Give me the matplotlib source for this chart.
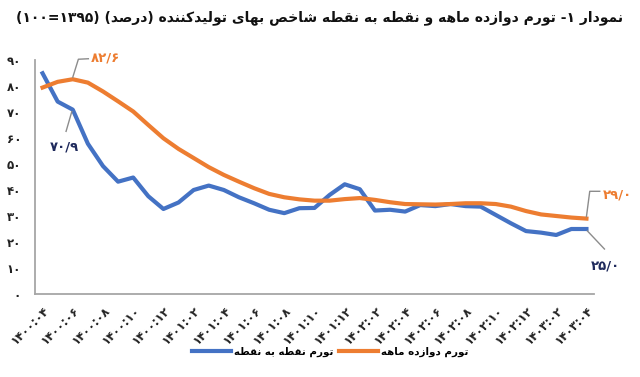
import re
import matplotlib
matplotlib.use("Agg")
import matplotlib.pyplot as plt
from matplotlib.lines import Line2D

# ---------------- data ----------------
months = ["۱۴۰۰:۰۴", "۱۴۰۰:۰۵", "۱۴۰۰:۰۶", "۱۴۰۰:۰۷", "۱۴۰۰:۰۸", "۱۴۰۰:۰۹", "۱۴۰۰:۱۰", "۱۴۰۰:۱۱", "۱۴۰۰:۱۲",
          "۱۴۰۱:۰۱", "۱۴۰۱:۰۲", "۱۴۰۱:۰۳", "۱۴۰۱:۰۴", "۱۴۰۱:۰۵", "۱۴۰۱:۰۶", "۱۴۰۱:۰۷", "۱۴۰۱:۰۸", "۱۴۰۱:۰۹",
          "۱۴۰۱:۱۰", "۱۴۰۱:۱۱", "۱۴۰۱:۱۲", "۱۴۰۲:۰۱", "۱۴۰۲:۰۲", "۱۴۰۲:۰۳", "۱۴۰۲:۰۴", "۱۴۰۲:۰۵", "۱۴۰۲:۰۶",
          "۱۴۰۲:۰۷", "۱۴۰۲:۰۸", "۱۴۰۲:۰۹", "۱۴۰۲:۱۰", "۱۴۰۲:۱۱", "۱۴۰۲:۱۲", "۱۴۰۳:۰۱", "۱۴۰۳:۰۲", "۱۴۰۳:۰۳",
          "۱۴۰۳:۰۴"]

point_to_point = [84.9, 74.0, 70.9, 57.8, 49.2, 43.2, 44.8, 37.6, 32.7, 35.2, 40.0, 41.7, 40.0, 37.2, 34.9,
                  32.4, 31.1, 33.0, 33.1, 38.1, 42.2, 40.3, 32.1, 32.4, 31.7, 34.2, 33.8, 34.6, 33.8, 33.6,
                  30.4, 27.2, 24.2, 23.6, 22.7, 25.0, 25.0]
twelve_month = [79.4, 81.6, 82.6, 81.3, 77.9, 74.1, 70.2, 65.0, 59.9, 55.8, 52.3, 48.8, 45.8, 43.2, 40.7,
                38.5, 37.2, 36.4, 35.9, 35.9, 36.5, 36.9, 36.2, 35.3, 34.6, 34.5, 34.4, 34.6, 34.9, 34.9,
                34.6, 33.6, 31.9, 30.6, 30.0, 29.4, 29.0]

y_ticks = [0, 10, 20, 30, 40, 50, 60, 70, 80, 90]
y_tick_labels = ["۰", "۱۰", "۲۰", "۳۰", "۴۰", "۵۰", "۶۰", "۷۰", "۸۰", "۹۰"]

title_text = "نمودار ۱- تورم دوازده ماهه و نقطه به نقطه شاخص بهای تولیدکننده (درصد) (۱۰۰=۱۳۹۵)"
legend_p2p = "تورم نقطه به نقطه"
legend_12m = "تورم دوازده ماهه"
label_peak_12m = "۸۲/۶"
label_p2p_start = "۷۰/۹"
label_end_12m = "۲۹/۰"
label_end_p2p = "۲۵/۰"

# ---------------- simple Persian shaping (no external libs) ----------------
# letter: (isolated, final, initial, medial); None initial => does not join to next
FORMS = {
    "ا": ("\uFE8D", "\uFE8E", None, None),
    "آ": ("\uFE81", "\uFE82", None, None),
    "ب": ("\uFE8F", "\uFE90", "\uFE91", "\uFE92"),
    "پ": ("\uFB56", "\uFB57", "\uFB58", "\uFB59"),
    "ت": ("\uFE95", "\uFE96", "\uFE97", "\uFE98"),
    "ث": ("\uFE99", "\uFE9A", "\uFE9B", "\uFE9C"),
    "ج": ("\uFE9D", "\uFE9E", "\uFE9F", "\uFEA0"),
    "چ": ("\uFB7A", "\uFB7B", "\uFB7C", "\uFB7D"),
    "ح": ("\uFEA1", "\uFEA2", "\uFEA3", "\uFEA4"),
    "خ": ("\uFEA5", "\uFEA6", "\uFEA7", "\uFEA8"),
    "د": ("\uFEA9", "\uFEAA", None, None),
    "ذ": ("\uFEAB", "\uFEAC", None, None),
    "ر": ("\uFEAD", "\uFEAE", None, None),
    "ز": ("\uFEAF", "\uFEB0", None, None),
    "ژ": ("\uFB8A", "\uFB8B", None, None),
    "س": ("\uFEB1", "\uFEB2", "\uFEB3", "\uFEB4"),
    "ش": ("\uFEB5", "\uFEB6", "\uFEB7", "\uFEB8"),
    "ص": ("\uFEB9", "\uFEBA", "\uFEBB", "\uFEBC"),
    "ض": ("\uFEBD", "\uFEBE", "\uFEBF", "\uFEC0"),
    "ط": ("\uFEC1", "\uFEC2", "\uFEC3", "\uFEC4"),
    "ظ": ("\uFEC5", "\uFEC6", "\uFEC7", "\uFEC8"),
    "ع": ("\uFEC9", "\uFECA", "\uFECB", "\uFECC"),
    "غ": ("\uFECD", "\uFECE", "\uFECF", "\uFED0"),
    "ف": ("\uFED1", "\uFED2", "\uFED3", "\uFED4"),
    "ق": ("\uFED5", "\uFED6", "\uFED7", "\uFED8"),
    "ک": ("\uFB8E", "\uFB8F", "\uFB90", "\uFB91"),
    "گ": ("\uFB92", "\uFB93", "\uFB94", "\uFB95"),
    "ل": ("\uFEDD", "\uFEDE", "\uFEDF", "\uFEE0"),
    "م": ("\uFEE1", "\uFEE2", "\uFEE3", "\uFEE4"),
    "ن": ("\uFEE5", "\uFEE6", "\uFEE7", "\uFEE8"),
    "ه": ("\uFEE9", "\uFEEA", "\uFEEB", "\uFEEC"),
    "و": ("\uFEED", "\uFEEE", None, None),
    "ی": ("\uFBFC", "\uFBFD", "\uFBFE", "\uFBFF"),
}
MIRROR = {"(": ")", ")": "("}
LTR_RUN = re.compile(r"[0-9\u06F0-\u06F9](?:[0-9\u06F0-\u06F9/:.=]*[0-9\u06F0-\u06F9])?")


def shape(text):
    chars = list(text)
    out = []
    for i, c in enumerate(chars):
        if c not in FORMS:
            out.append(c)
            continue
        prev = chars[i - 1] if i > 0 else None
        nxt = chars[i + 1] if i + 1 < len(chars) else None
        jp = prev in FORMS and FORMS[prev][2] is not None
        jn = nxt in FORMS and FORMS[c][2] is not None
        iso, fin, ini, med = FORMS[c]
        if jp and jn:
            out.append(med)
        elif jp:
            out.append(fin)
        elif jn:
            out.append(ini)
        else:
            out.append(iso)
    s = "".join(out)
    segs = []
    pos = 0
    for m in LTR_RUN.finditer(s):
        if m.start() > pos:
            segs.append(("r", s[pos:m.start()]))
        segs.append(("l", m.group()))
        pos = m.end()
    if pos < len(s):
        segs.append(("r", s[pos:]))
    vis = []
    for kind, seg in reversed(segs):
        if kind == "l":
            vis.append(seg)
        else:
            vis.append("".join(MIRROR.get(ch, ch) for ch in reversed(seg)))
    return "".join(vis)


# ---------------- figure ----------------
plt.rcParams["font.family"] = ["DejaVu Sans"]
BLUE = "#4472C4"
ORANGE = "#ED7D31"
NAVY = "#1F2A5C"
AXC = "#A6A6A6"

fig = plt.figure(figsize=(6.4, 3.77), dpi=100)
W, H = 640, 377
ax = fig.add_axes([35 / W, 1 - 294 / H, (594 - 35) / W, (294 - 60) / H])

x = list(range(len(months)))
ax.plot(x, point_to_point, color=BLUE, lw=3.0, solid_joinstyle="round", zorder=3)
ax.plot(x, twelve_month, color=ORANGE, lw=3.0, solid_joinstyle="round", zorder=3)

ax.set_xlim(-0.5, len(months) - 0.5)
ax.set_ylim(0, 90)
ax.set_yticks(y_ticks)
ax.set_yticklabels(y_tick_labels, fontsize=8.5, fontweight="bold", color="#222222")
ax.set_xticks(x[::2])
ax.set_xticklabels(months[::2], rotation=45, ha="right", rotation_mode="anchor",
                   fontsize=8.5, fontweight="bold", color="#222222")
ax.tick_params(axis="both", length=0)
ax.tick_params(axis="y", pad=10)
ax.tick_params(axis="x", pad=7)
for s in ("top", "right"):
    ax.spines[s].set_visible(False)
for s in ("left", "bottom"):
    ax.spines[s].set_color(AXC)
    ax.spines[s].set_linewidth(1.3)

fig.text(320 / W, 1 - 18 / H, shape(title_text), ha="center", va="center",
         fontsize=10, fontweight="bold", color="#111111")

# legend
handles = [Line2D([0], [0], color=BLUE, lw=3.0), Line2D([0], [0], color=ORANGE, lw=3.0)]
fig.legend(handles, [shape(legend_p2p), shape(legend_12m)], ncol=2, frameon=False,
           loc="center", bbox_to_anchor=(330 / W, 1 - 352 / H),
           prop={"weight": "bold", "size": 7.4}, handlelength=3.8, handletextpad=0.3,
           columnspacing=0.5)

# leader lines + labels (pixel offsets from data points)
fig.canvas.draw()
def to_disp(i, v):
    return ax.transData.transform((i, v))

def leader(i, v, pts, color="#8C8C8C"):
    px, py = to_disp(i, v)
    xs = [px + dx for dx, dy in pts]
    ys = [py + dy for dx, dy in pts]
    line = Line2D(xs, ys, color=color, lw=1.0, transform=None, zorder=4)
    fig.add_artist(line)
    return px, py

i_peak = twelve_month.index(max(twelve_month))
px, py = leader(i_peak, twelve_month[i_peak], [(0, 2), (5.6, 20), (15.6, 20.5)])
fig.text((px + 18) / W, (py + 21) / H, label_peak_12m, ha="left", va="center",
         fontsize=9.5, fontweight="bold", color=ORANGE)

px, py = leader(2, point_to_point[2], [(-1, -2), (-6.7, -21.7)])
fig.text((px - 8) / W, (py - 37) / H, label_p2p_start, ha="center", va="center",
         fontsize=9.5, fontweight="bold", color=NAVY)

n = len(months) - 1
px, py = leader(n, twelve_month[n], [(0, 2), (3.3, 27.3), (13.3, 27.3)])
fig.text((px + 16) / W, (py + 24) / H, label_end_12m, ha="left", va="center",
         fontsize=9.5, fontweight="bold", color=ORANGE)

px, py = leader(n, point_to_point[n], [(1, -2), (18, -20)])
fig.text((px + 19) / W, (py - 37) / H, label_end_p2p, ha="center", va="center",
         fontsize=9.5, fontweight="bold", color=NAVY)

fig.savefig("out.png", dpi=100)
